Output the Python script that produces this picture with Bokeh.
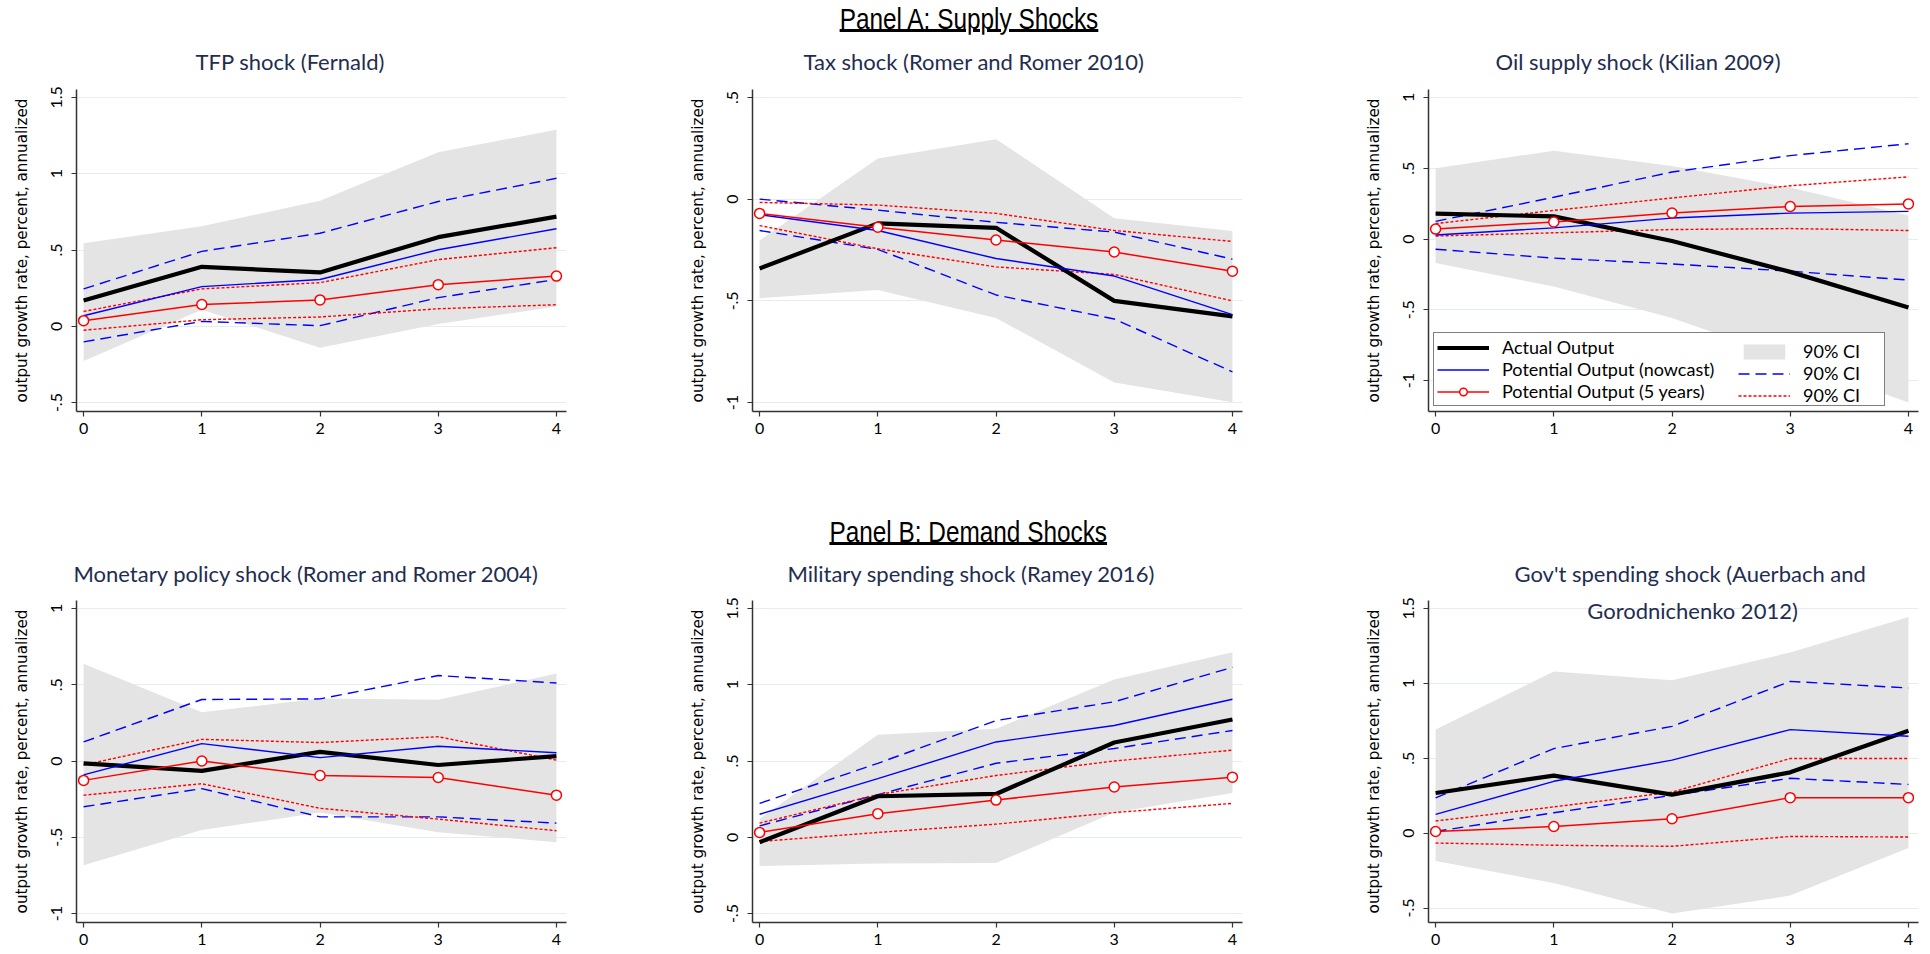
from bokeh.plotting import figure
from bokeh.models import Range1d, FixedTicker, Label, Legend, LegendItem, Div, ColumnDataSource, Title
from bokeh.layouts import row, column
from bokeh.embed import file_html
from bokeh.resources import INLINE

# ---------------- data ----------------
horizons = [0, 1, 2, 3, 4]
x_ticks = [0, 1, 2, 3, 4]

ytick_values = [-1, -0.5, 0, 0.5, 1, 1.5]
ytick_text = ["-1", "-.5", "0", ".5", "1", "1.5"]

panel_titles = [
    "TFP shock (Fernald)",
    "Tax shock (Romer and Romer 2010)",
    "Oil supply shock (Kilian 2009)",
    "Monetary policy shock (Romer and Romer 2004)",
    "Military spending shock (Ramey 2016)",
    "Gov't spending shock (Auerbach and\nGorodnichenko 2012)",
]
heading_a = "Panel A: Supply Shocks"
heading_b = "Panel B: Demand Shocks"
y_title = "output growth rate, percent, annualized"

# TFP shock (Fernald)
tfp_ticks = [-0.5, 0, 0.5, 1, 1.5]
tfp_actual = [0.169, 0.390, 0.353, 0.584, 0.719]
tfp_band_hi = [0.545, 0.656, 0.823, 1.141, 1.288]
tfp_band_lo = [-0.227, 0.108, -0.141, 0.015, 0.130]
tfp_now = [0.069, 0.260, 0.307, 0.502, 0.639]
tfp_now_hi = [0.245, 0.491, 0.610, 0.818, 0.970]
tfp_now_lo = [-0.102, 0.032, 0.004, 0.188, 0.307]
tfp_5y = [0.037, 0.143, 0.173, 0.273, 0.329]
tfp_5y_hi = [0.097, 0.245, 0.286, 0.437, 0.515]
tfp_5y_lo = [-0.026, 0.043, 0.061, 0.115, 0.141]

# Tax shock (Romer and Romer 2010)
tax_ticks = [-1, -0.5, 0, 0.5]
tax_actual = [-0.341, -0.119, -0.141, -0.500, -0.576]
tax_band_hi = [-0.203, 0.200, 0.295, -0.094, -0.157]
tax_band_lo = [-0.487, -0.446, -0.584, -0.901, -0.998]
tax_now = [-0.076, -0.154, -0.292, -0.378, -0.568]
tax_now_hi = [0.000, -0.054, -0.114, -0.162, -0.295]
tax_now_lo = [-0.154, -0.247, -0.471, -0.589, -0.849]
tax_5y = [-0.070, -0.138, -0.201, -0.260, -0.354]
tax_5y_hi = [-0.016, -0.029, -0.070, -0.154, -0.208]
tax_5y_lo = [-0.130, -0.244, -0.333, -0.370, -0.500]

# Oil supply shock (Kilian 2009)
oil_ticks = [-1, -0.5, 0, 0.5, 1]
oil_actual = [0.179, 0.160, -0.014, -0.232, -0.483]
oil_band_hi = [0.499, 0.624, 0.515, 0.364, 0.167]
oil_band_lo = [-0.169, -0.336, -0.557, -0.850, -1.155]
oil_now = [0.028, 0.079, 0.148, 0.183, 0.195]
oil_now_hi = [0.125, 0.295, 0.473, 0.589, 0.673]
oil_now_lo = [-0.072, -0.135, -0.176, -0.227, -0.290]
oil_5y = [0.070, 0.121, 0.183, 0.230, 0.248]
oil_5y_hi = [0.109, 0.202, 0.290, 0.376, 0.439]
oil_5y_lo = [0.021, 0.044, 0.067, 0.074, 0.060]

# Monetary policy shock (Romer and Romer 2004)
mon_ticks = [-1, -0.5, 0, 0.5, 1]
mon_actual = [-0.015, -0.065, 0.060, -0.026, 0.032]
mon_band_hi = [0.638, 0.319, 0.409, 0.401, 0.573]
mon_band_lo = [-0.683, -0.453, -0.338, -0.467, -0.532]
mon_now = [-0.091, 0.114, 0.022, 0.097, 0.054]
mon_now_hi = [0.125, 0.403, 0.407, 0.560, 0.511]
mon_now_lo = [-0.300, -0.181, -0.366, -0.366, -0.407]
mon_5y = [-0.127, 0.000, -0.095, -0.108, -0.224]
mon_5y_hi = [-0.026, 0.142, 0.121, 0.159, 0.006]
mon_5y_lo = [-0.224, -0.149, -0.310, -0.381, -0.457]

# Military spending shock (Ramey 2016)
mil_ticks = [-0.5, 0, 0.5, 1, 1.5]
mil_actual = [-0.032, 0.269, 0.284, 0.621, 0.772]
mil_band_hi = [0.120, 0.672, 0.711, 1.034, 1.213]
mil_band_lo = [-0.188, -0.172, -0.168, 0.162, 0.291]
mil_now = [0.151, 0.384, 0.625, 0.733, 0.905]
mil_now_hi = [0.222, 0.485, 0.765, 0.888, 1.114]
mil_now_lo = [0.075, 0.280, 0.485, 0.582, 0.700]
mil_5y = [0.032, 0.155, 0.244, 0.330, 0.394]
mil_5y_hi = [0.093, 0.280, 0.405, 0.500, 0.571]
mil_5y_lo = [-0.028, 0.032, 0.086, 0.162, 0.222]

# Gov't spending shock (Auerbach and Gorodnichenko 2012)
gov_ticks = [-0.5, 0, 0.5, 1, 1.5]
gov_actual = [0.268, 0.384, 0.257, 0.406, 0.684]
gov_band_hi = [0.691, 1.079, 1.020, 1.206, 1.443]
gov_band_lo = [-0.186, -0.333, -0.537, -0.417, -0.099]
gov_now = [0.125, 0.346, 0.487, 0.691, 0.647]
gov_now_hi = [0.235, 0.564, 0.713, 1.013, 0.969]
gov_now_lo = [0.011, 0.136, 0.252, 0.366, 0.325]
gov_5y = [0.011, 0.044, 0.096, 0.237, 0.237]
gov_5y_hi = [0.081, 0.175, 0.274, 0.498, 0.498]
gov_5y_lo = [-0.066, -0.081, -0.088, -0.022, -0.026]

legend_labels = ["Actual Output", "Potential Output (nowcast)", "Potential Output (5 years)",
                 "90% CI", "90% CI", "90% CI"]

# ---------------- styles ----------------
BAND = "#E4E4E4"
BLUE = "#0000FF"
RED = "#FF0000"
NAVY = "#1F2D50"
GRID = "#E4EEF0"
AXIS = "#333333"
FONT = "Lato"

panels = [
    dict(ticks=tfp_ticks, actual=tfp_actual, band_hi=tfp_band_hi, band_lo=tfp_band_lo, now=tfp_now,
         now_hi=tfp_now_hi, now_lo=tfp_now_lo, y5=tfp_5y, y5_hi=tfp_5y_hi, y5_lo=tfp_5y_lo),
    dict(ticks=tax_ticks, actual=tax_actual, band_hi=tax_band_hi, band_lo=tax_band_lo, now=tax_now,
         now_hi=tax_now_hi, now_lo=tax_now_lo, y5=tax_5y, y5_hi=tax_5y_hi, y5_lo=tax_5y_lo),
    dict(ticks=oil_ticks, actual=oil_actual, band_hi=oil_band_hi, band_lo=oil_band_lo, now=oil_now,
         now_hi=oil_now_hi, now_lo=oil_now_lo, y5=oil_5y, y5_hi=oil_5y_hi, y5_lo=oil_5y_lo),
    dict(ticks=mon_ticks, actual=mon_actual, band_hi=mon_band_hi, band_lo=mon_band_lo, now=mon_now,
         now_hi=mon_now_hi, now_lo=mon_now_lo, y5=mon_5y, y5_hi=mon_5y_hi, y5_lo=mon_5y_lo),
    dict(ticks=mil_ticks, actual=mil_actual, band_hi=mil_band_hi, band_lo=mil_band_lo, now=mil_now,
         now_hi=mil_now_hi, now_lo=mil_now_lo, y5=mil_5y, y5_hi=mil_5y_hi, y5_lo=mil_5y_lo),
    dict(ticks=gov_ticks, actual=gov_actual, band_hi=gov_band_hi, band_lo=gov_band_lo, now=gov_now,
         now_hi=gov_now_hi, now_lo=gov_now_lo, y5=gov_5y, y5_hi=gov_5y_hi, y5_lo=gov_5y_lo),
]
# left edge of each panel title, measured from the left of its plot frame (px)
title_left = [119, 51, 67, -3, 35, 86]

label_map = dict(zip(ytick_values, ytick_text))

X_LO, X_HI = -0.06, 4.085
FRAME_W, FRAME_H = 490, 325
BORDER_L = 76


def make_panel(i, width, height, border_top, border_right, standoff, with_legend=False):
    d = panels[i]
    ymin = min([d["ticks"][0]] + d["band_lo"] + d["now_lo"] + d["y5_lo"] + d["actual"])
    ymax = max([d["ticks"][-1]] + d["band_hi"] + d["now_hi"] + d["y5_hi"] + d["actual"])
    span = ymax - ymin
    y_lo = ymin - 9.0 / 308 * span
    y_hi = ymax + 8.0 / 308 * span

    p = figure(width=width, height=height, output_backend="svg", toolbar_location=None,
               x_range=Range1d(X_LO, X_HI), y_range=Range1d(y_lo, y_hi),
               min_border_left=BORDER_L, min_border_right=border_right,
               min_border_top=border_top, min_border_bottom=height - border_top - FRAME_H)
    p.outline_line_color = None
    p.background_fill_color = "white"
    p.border_fill_color = "white"

    src = ColumnDataSource(dict(h=horizons, actual=d["actual"], band_hi=d["band_hi"], band_lo=d["band_lo"],
                                now=d["now"], now_hi=d["now_hi"], now_lo=d["now_lo"],
                                y5=d["y5"], y5_hi=d["y5_hi"], y5_lo=d["y5_lo"]))

    r_band = p.varea(x="h", y1="band_lo", y2="band_hi", source=src, fill_color=BAND, fill_alpha=1)
    r_dash1 = p.line("h", "now_hi", source=src, line_color=BLUE, line_width=1.4, line_dash="11 6")
    p.line("h", "now_lo", source=src, line_color=BLUE, line_width=1.4, line_dash="11 6")
    r_dot1 = p.line("h", "y5_hi", source=src, line_color=RED, line_width=1.4, line_dash="3 2")
    p.line("h", "y5_lo", source=src, line_color=RED, line_width=1.4, line_dash="3 2")
    r_act = p.line("h", "actual", source=src, line_color="black", line_width=4.2)
    r_now = p.line("h", "now", source=src, line_color=BLUE, line_width=1.4)
    r_5y = p.line("h", "y5", source=src, line_color=RED, line_width=1.5)
    r_5ym = p.scatter("h", "y5", source=src, marker="circle", size=10, fill_color="white",
                      line_color=RED, line_width=1.5)

    # axes
    p.xaxis.ticker = FixedTicker(ticks=x_ticks)
    p.yaxis.ticker = FixedTicker(ticks=d["ticks"])
    p.yaxis.major_label_overrides = {t: label_map[t] for t in d["ticks"]}
    p.yaxis.major_label_orientation = "vertical"
    for ax in (p.xaxis, p.yaxis):
        ax.axis_line_color = AXIS
        ax.axis_line_width = 1.5
        ax.major_tick_line_color = AXIS
        ax.major_tick_line_width = 1.2
        ax.major_tick_out = 5
        ax.major_tick_in = 0
        ax.minor_tick_line_color = None
        ax.major_label_text_font = FONT
        ax.major_label_text_font_size = "16px"
        ax.major_label_text_color = "black"
    p.xaxis.major_label_standoff = 6
    p.yaxis.major_label_standoff = 9
    p.yaxis.axis_label = y_title
    p.yaxis.axis_label_text_font = "DejaVu Sans"
    p.yaxis.axis_label_text_font_size = "15.2px"
    p.yaxis.axis_label_text_font_style = "normal"
    p.yaxis.axis_label_text_color = "black"
    p.yaxis.axis_label_standoff = 18
    p.xgrid.visible = False
    p.ygrid.grid_line_color = GRID
    p.ygrid.grid_line_width = 1.2

    # panel title above the frame; a wrapped second line sits at the frame's top edge
    lines = panel_titles[i].split("\n")
    p.add_layout(Title(text=lines[0], align="left", offset=title_left[i], vertical_align="top",
                       standoff=standoff, text_font=FONT, text_font_size="22px",
                       text_font_style="normal", text_color=NAVY), "above")
    for txt in lines[1:]:
        p.add_layout(Label(x=(X_LO + X_HI) / 2, y=y_hi, x_offset=19, y_offset=4, text=txt,
                           text_align="center", text_baseline="top", text_font=FONT,
                           text_font_size="22px", text_color=NAVY))

    if with_legend:
        common = dict(orientation="vertical", padding=3, spacing=0, margin=0, glyph_width=52,
                      glyph_height=19, label_height=19, label_standoff=13,
                      label_text_font=FONT, label_text_font_size="18px",
                      label_text_line_height=0.9, label_text_color="black")
        left_items = [
            LegendItem(label=legend_labels[0], renderers=[r_act]),
            LegendItem(label=legend_labels[1], renderers=[r_now]),
            LegendItem(label=legend_labels[2], renderers=[r_5y, r_5ym]),
        ]
        right_items = [
            LegendItem(label=legend_labels[3], renderers=[r_band]),
            LegendItem(label=legend_labels[4], renderers=[r_dash1]),
            LegendItem(label=legend_labels[5], renderers=[r_dot1]),
        ]
        leg_l = Legend(items=left_items, location=(5, 5), label_width=379,
                       border_line_color="black", border_line_width=1.2,
                       background_fill_color="white", background_fill_alpha=1, **common)
        leg_r = Legend(items=right_items, location=(310, 5),
                       border_line_color=None, background_fill_alpha=0, **common)
        p.add_layout(leg_l)
        p.add_layout(leg_r)
    return p


TOTAL_W = 1928


def heading(text, height, pad_top, ul_offset):
    html = (f'<div style="display:block;width:{TOTAL_W - 9}px;margin-left:9px;padding-top:{pad_top}px;'
            "text-align:center;font-family:'Liberation Sans',Arial,sans-serif;"
            'font-size:29px;line-height:30px;color:#000;white-space:nowrap;">'
            '<span style="display:inline-block;transform:scaleX(0.84);transform-origin:50% 50%;'
            'text-decoration:underline;text-decoration-thickness:3px;'
            f'text-underline-offset:{ul_offset}px;">{text}</span></div>')
    return Div(text=html, width=TOTAL_W, height=height, margin=(0, 0, 0, 0))


W1 = 676
W3 = TOTAL_W - 2 * W1
R1_H, R2_H = 479, 405

p1 = make_panel(0, W1, R1_H, 52, W1 - BORDER_L - FRAME_W, 26)
p2 = make_panel(1, W1, R1_H, 52, W1 - BORDER_L - FRAME_W, 26)
p3 = make_panel(2, W3, R1_H, 52, W3 - BORDER_L - FRAME_W, 26, with_legend=True)
p4 = make_panel(3, W1, R2_H, 50, W1 - BORDER_L - FRAME_W, 24)
p5 = make_panel(4, W1, R2_H, 50, W1 - BORDER_L - FRAME_W, 24)
p6 = make_panel(5, W3, R2_H, 50, W3 - BORDER_L - FRAME_W, 24)

div_a = heading(heading_a, 34, 4, 0)
div_b = heading(heading_b, 34, 4, 0)

layout = column(div_a, row(p1, p2, p3), div_b, row(p4, p5, p6))

open("out.html", "w").write(file_html(layout, INLINE))
